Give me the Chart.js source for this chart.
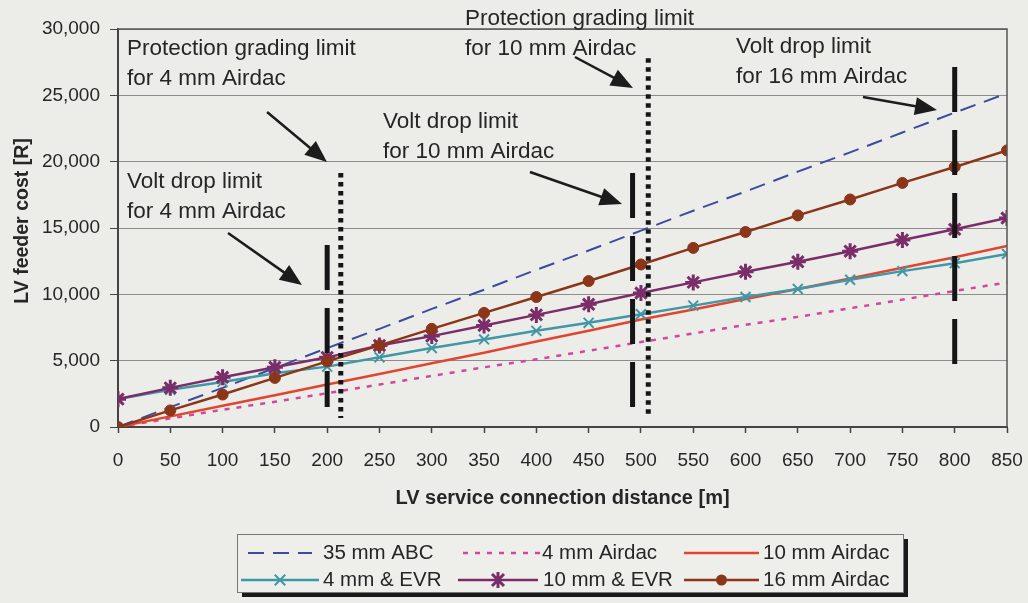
<!DOCTYPE html>
<html>
<head>
<meta charset="utf-8">
<script src="https://cdn.jsdelivr.net/npm/chart.js@4.4.1/dist/chart.umd.min.js"></script>
<style>
  html, body { margin: 0; padding: 0; background: #ecede9; }
  #wrap { width: 1028px; height: 603px; }
</style>
</head>
<body>
<div id="wrap"><canvas id="graph" width="1028" height="603"></canvas></div>
<script>
// distance along the service connection [m]
const distances = [0, 50, 100, 150, 200, 250, 300, 350, 400, 450, 500, 550, 600, 650, 700, 750, 800, 850];

// feeder cost [R] per option
const abc35    = [0, 1500, 2950, 4450, 5950, 7400, 8900, 10350, 11850, 13300, 14800, 16300, 17750, 19250, 20700, 22200, 23700, 25150];
const airdac4  = [0, 650, 1300, 1900, 2550, 3200, 3850, 4500, 5100, 5750, 6400, 7050, 7700, 8300, 8950, 9600, 10250, 10900];
const airdac10 = [0, 800, 1600, 2400, 3200, 4000, 4800, 5600, 6450, 7250, 8100, 8850, 9650, 10400, 11200, 12000, 12800, 13650];
const evr4     = [2100, 2800, 3400, 4050, 4550, 5250, 5950, 6600, 7250, 7850, 8500, 9150, 9800, 10400, 11100, 11750, 12350, 13050];
const evr10    = [2100, 2950, 3750, 4500, 5250, 6150, 6850, 7650, 8450, 9250, 10100, 10900, 11700, 12450, 13250, 14100, 14900, 15750];
const airdac16 = [0, 1250, 2450, 3700, 4950, 6150, 7400, 8600, 9800, 11000, 12250, 13500, 14700, 15950, 17150, 18400, 19600, 20850];

const seriesNames = ['35 mm ABC', '4 mm Airdac', '10 mm Airdac', '4 mm & EVR', '10 mm & EVR', '16 mm Airdac'];
const costTicks = [0, 5000, 10000, 15000, 20000, 25000, 30000];

// limit bars: distance [m], bottom and top [R]
const limitBars = [
  { x: 213, from: 680, to: 19150, kind: 'dot' },
  { x: 507, from: 680, to: 27800, kind: 'dot' },
  { x: 200, from: 1500, to: 13720, kind: 'dash' },
  { x: 492, from: 1500, to: 19150, kind: 'dash' },
  { x: 800, from: 4750, to: 27140, kind: 'dash' }
];

// arrows: [x0, y0, x1, y1] in metres / rand, head at the second point
const arrows = [
  [142.5, 23744, 199.8, 19975],
  [105.2, 14623, 175.9, 10704],
  [393.9, 19221, 481.9, 16809],
  [436.9, 27889, 492.4, 25553],
  [712.3, 24874, 783.1, 23895]
];

const notes = [
  { x: 8.6,   y: 28493, lines: ['Protection grading limit', 'for 4 mm Airdac'] },
  { x: 331.8, y: 30754, lines: ['Protection grading limit', 'for 10 mm Airdac'] },
  { x: 253.4, y: 22990, lines: ['Volt drop limit', 'for 10 mm Airdac'] },
  { x: 8.6,   y: 18467, lines: ['Volt drop limit', 'for 4 mm Airdac'] },
  { x: 590.9, y: 28643, lines: ['Volt drop limit', 'for 16 mm Airdac'] }
];

const FONT = '"Liberation Sans", Arial, Helvetica, sans-serif';
const INK = '#262626';

function pts(values) {
  return distances.map((d, i) => ({ x: d, y: values[i] }));
}

function drawMarker(ctx, style, x, y, r, color, width) {
  ctx.save();
  ctx.strokeStyle = color;
  ctx.fillStyle = color;
  ctx.lineWidth = width;
  ctx.setLineDash([]);
  ctx.beginPath();
  if (style === 'circle') {
    ctx.arc(x, y, r, 0, Math.PI * 2);
    ctx.fill();
  } else {
    ctx.moveTo(x - r * 0.75, y - r * 0.75); ctx.lineTo(x + r * 0.75, y + r * 0.75);
    ctx.moveTo(x + r * 0.75, y - r * 0.75); ctx.lineTo(x - r * 0.75, y + r * 0.75);
    if (style === 'star') { ctx.moveTo(x, y - r); ctx.lineTo(x, y + r); }
    ctx.stroke();
  }
  ctx.restore();
}

const pageBackground = {
  id: 'pageBackground',
  beforeDraw(chart) {
    const ctx = chart.ctx;
    ctx.save();
    ctx.fillStyle = '#ecede9';
    ctx.fillRect(0, 0, chart.width, chart.height);
    ctx.restore();
  }
};

const overlays = {
  id: 'overlays',
  afterDraw(chart) {
    const ctx = chart.ctx;
    const xs = chart.scales.x, ys = chart.scales.y;
    const area = chart.chartArea;

    // plot frame
    ctx.save();
    ctx.strokeStyle = '#555';
    ctx.lineWidth = 1.5;
    ctx.beginPath();
    ctx.moveTo(area.left, area.top);
    ctx.lineTo(area.right, area.top);
    ctx.lineTo(area.right, area.bottom);
    ctx.stroke();
    ctx.restore();

    // limit bars
    limitBars.forEach(b => {
      const px = xs.getPixelForValue(b.x);
      ctx.save();
      ctx.strokeStyle = '#151515';
      ctx.lineWidth = 5;
      ctx.lineCap = 'butt';
      ctx.setLineDash(b.kind === 'dot' ? [4.5, 4.5] : [45, 18]);
      ctx.beginPath();
      ctx.moveTo(px, ys.getPixelForValue(b.to));
      ctx.lineTo(px, ys.getPixelForValue(b.from));
      ctx.stroke();
      ctx.restore();
    });

    // arrows
    arrows.forEach(a => {
      const x0 = xs.getPixelForValue(a[0]), y0 = ys.getPixelForValue(a[1]);
      const x1 = xs.getPixelForValue(a[2]), y1 = ys.getPixelForValue(a[3]);
      const ang = Math.atan2(y1 - y0, x1 - x0);
      const hl = 22, hw = 9;
      ctx.save();
      ctx.strokeStyle = '#1c1c1c';
      ctx.fillStyle = '#1c1c1c';
      ctx.lineWidth = 2.5;
      ctx.beginPath();
      ctx.moveTo(x0, y0);
      ctx.lineTo(x1 - Math.cos(ang) * hl * 0.8, y1 - Math.sin(ang) * hl * 0.8);
      ctx.stroke();
      ctx.beginPath();
      ctx.moveTo(x1, y1);
      ctx.lineTo(x1 - Math.cos(ang) * hl - Math.sin(ang) * hw, y1 - Math.sin(ang) * hl + Math.cos(ang) * hw);
      ctx.lineTo(x1 - Math.cos(ang) * hl + Math.sin(ang) * hw, y1 - Math.sin(ang) * hl - Math.cos(ang) * hw);
      ctx.closePath();
      ctx.fill();
      ctx.restore();
    });

    // annotation text
    ctx.save();
    ctx.fillStyle = INK;
    ctx.font = '22.5px ' + FONT;
    ctx.textBaseline = 'middle';
    ctx.textAlign = 'left';
    notes.forEach(n => {
      const px = xs.getPixelForValue(n.x), py = ys.getPixelForValue(n.y);
      n.lines.forEach((t, i) => ctx.fillText(t, px, py + i * 29.5));
    });
    ctx.restore();

    // y axis title
    ctx.save();
    ctx.fillStyle = INK;
    ctx.font = 'bold 19.5px ' + FONT;
    ctx.translate(23, 221);
    ctx.rotate(-Math.PI / 2);
    ctx.textAlign = 'center';
    ctx.textBaseline = 'middle';
    ctx.fillText('LV feeder cost [R]', 0, 0);
    ctx.restore();

    // legend
    const box = { x: 237, y: 534, w: 666, h: 58 };
    ctx.save();
    ctx.fillStyle = '#1a1a1a';
    ctx.fillRect(box.x + 5, box.y + 5, box.w, box.h);
    ctx.fillStyle = '#eeefeb';
    ctx.fillRect(box.x, box.y, box.w, box.h);
    ctx.strokeStyle = '#777';
    ctx.lineWidth = 1;
    ctx.strokeRect(box.x + 0.5, box.y + 0.5, box.w, box.h);
    ctx.restore();

    const slots = [
      [248, 312, 323, 553], [463, 540, 542, 553], [684, 759, 763, 553],
      [241, 319, 323, 580], [458, 538, 543, 580], [684, 759, 763, 580]
    ];
    chart.data.datasets.forEach((ds, i) => {
      const [s0, s1, tx, ty] = slots[i];
      ctx.save();
      ctx.strokeStyle = ds.borderColor;
      ctx.lineWidth = ds.borderWidth;
      ctx.setLineDash(ds.borderDash || []);
      ctx.beginPath();
      ctx.moveTo(s0, ty);
      ctx.lineTo(s1, ty);
      ctx.stroke();
      ctx.restore();
      if (ds.pointRadius > 0) {
        drawMarker(ctx, ds.pointStyle, (s0 + s1) / 2, ty, ds.pointRadius, ds.borderColor, ds.pointBorderWidth);
      }
      ctx.save();
      ctx.fillStyle = INK;
      ctx.font = '20.5px ' + FONT;
      ctx.textBaseline = 'middle';
      ctx.fillText(seriesNames[i], tx, ty);
      ctx.restore();
    });
  }
};

const ctx = document.getElementById('graph').getContext('2d');
new Chart(ctx, {
  type: 'line',
  data: {
    datasets: [
      { label: seriesNames[0], data: pts(abc35), borderColor: '#3d4b9e', borderWidth: 2, borderDash: [16, 9], pointRadius: 0, order: 6 },
      { label: seriesNames[1], data: pts(airdac4), borderColor: '#d0479b', borderWidth: 2.5, borderDash: [5, 7], pointRadius: 0, order: 5 },
      { label: seriesNames[2], data: pts(airdac10), borderColor: '#e2452f', borderWidth: 2.5, pointRadius: 0, order: 4 },
      { label: seriesNames[3], data: pts(evr4), borderColor: '#4297a6', borderWidth: 2.5, pointStyle: 'crossRot',
        pointRadius: 7, pointBorderWidth: 2, pointBorderColor: '#4297a6', order: 3 },
      { label: seriesNames[4], data: pts(evr10), borderColor: '#7a2d68', borderWidth: 2.5, pointStyle: 'star',
        pointRadius: 8, pointBorderWidth: 3, pointBorderColor: '#7a2d68', order: 2 },
      { label: seriesNames[5], data: pts(airdac16), borderColor: '#8b3519', borderWidth: 2.5, pointStyle: 'circle',
        pointRadius: 5.5, pointBorderWidth: 1, pointBackgroundColor: '#8b3519', pointBorderColor: '#8b3519', order: 1 }
    ]
  },
  options: {
    responsive: false,
    animation: false,
    devicePixelRatio: 1,
    layout: { padding: { top: 29, right: 21, bottom: 93, left: 0 } },
    plugins: { legend: { display: false }, tooltip: { enabled: false } },
    elements: { line: { tension: 0 } },
    scales: {
      x: {
        type: 'linear',
        min: 0,
        max: 850,
        afterFit: s => { s.height = 83; s.paddingLeft = 0; s.paddingRight = 0; },
        afterBuildTicks: s => { s.ticks = distances.map(v => ({ value: v })); },
        ticks: { stepSize: 50, autoSkip: false, maxRotation: 0, padding: 16, color: INK, font: { family: FONT, size: 19 } },
        grid: { drawOnChartArea: false, drawTicks: true, tickLength: 6, tickColor: '#444', tickWidth: 1.5 },
        border: { display: true, color: '#444', width: 2 },
        title: { display: true, text: 'LV service connection distance [m]', color: INK, padding: 0,
                 font: { family: FONT, size: 20, weight: 'bold' } }
      },
      y: {
        min: 0,
        max: 30000,
        afterFit: s => { s.width = 118; },
        afterBuildTicks: s => { s.ticks = costTicks.map(v => ({ value: v })); },
        ticks: { padding: 10, color: INK, font: { family: FONT, size: 19 },
                 callback: v => v.toLocaleString('en-US') },
        grid: { color: '#8d8d8d', lineWidth: 1, tickLength: 8, tickColor: '#444' },
        border: { display: true, color: '#444', width: 2 }
      }
    }
  },
  plugins: [pageBackground, overlays]
});
</script>
</body>
</html>
